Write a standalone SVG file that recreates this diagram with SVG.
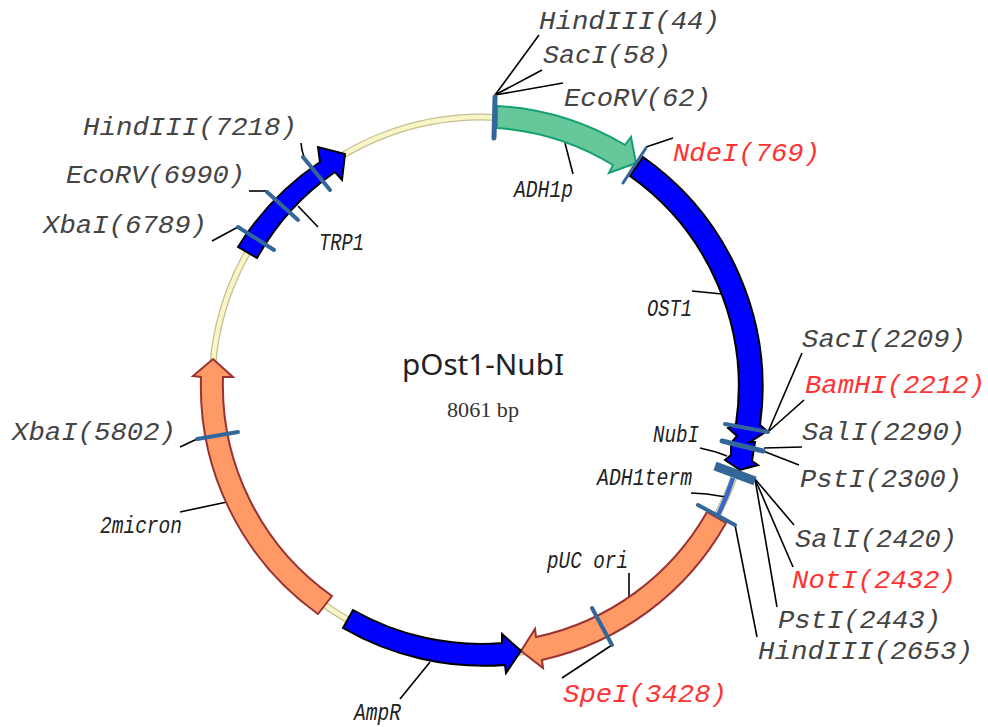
<svg xmlns="http://www.w3.org/2000/svg" width="988" height="727" viewBox="0 0 988 727">
<style>
.site{font:italic 25px "Liberation Mono",monospace;fill:#444;}
.red{fill:#ff3333;}
.feat{font:italic 24px "Liberation Mono",monospace;fill:#222;}
.mark{fill:none;stroke:#336699;stroke-width:4;stroke-linecap:round;}
.blue{fill:#0000ff;stroke:#000;stroke-width:2;}
.orange{fill:#ff9966;stroke:#993333;stroke-width:2;}
.green{fill:#66c89a;stroke:#14a070;stroke-width:2;}
#connectors line,#connectors polyline{fill:none;stroke:#000;stroke-width:1.6;}
</style>
<rect width="988" height="727" fill="#fff"/>
<g id="backbone">
<circle cx="481" cy="386" r="269" fill="none" stroke="#c4bf90" stroke-width="7"/>
<circle cx="481" cy="386" r="269" fill="none" stroke="#f8f5c6" stroke-width="4.5"/>
</g>
<g id="connectors">
<line x1="495" y1="95" x2="539" y2="35"/>
<line x1="495" y1="95" x2="542" y2="70"/>
<line x1="495" y1="95" x2="563" y2="83"/>
<line x1="646" y1="147" x2="673" y2="138"/>
<line x1="565" y1="143" x2="573" y2="174"/>
<line x1="692" y1="291" x2="722" y2="294"/>
<line x1="768" y1="432" x2="802" y2="353"/>
<line x1="768" y1="432" x2="804" y2="400"/>
<line x1="764" y1="448" x2="802" y2="447"/>
<line x1="763" y1="451" x2="799" y2="465"/>
<line x1="755" y1="479" x2="794" y2="525"/>
<line x1="755" y1="479" x2="793" y2="567"/>
<line x1="755" y1="479" x2="777" y2="607"/>
<line x1="735" y1="525" x2="757" y2="637"/>
<polyline points="700,448 716,452 727,456"/>
<polyline points="691,493 707,494 726,497"/>
<line x1="629" y1="573" x2="629" y2="598"/>
<line x1="612" y1="645" x2="562" y2="678"/>
<line x1="430" y1="662" x2="400" y2="699"/>
<line x1="298" y1="206" x2="318" y2="227"/>
<line x1="249" y1="191" x2="267" y2="191"/>
<line x1="212" y1="241" x2="238" y2="227"/>
<polyline points="301,143 302,150 304,157"/>
<line x1="180" y1="447" x2="197" y2="439"/>
<line x1="180" y1="512" x2="227" y2="502"/>
</g>
<g id="ADH1p">
<path class="green" d="M497,106 A280 280 0 0 1 625,145 L631,137 L636,163 L609,173 L613,165 A258 258 0 0 0 497,128 Z"/>
<text class="feat" x="514" y="197" textLength="59" lengthAdjust="spacingAndGlyphs">ADH1p</text>
</g>
<g id="OST1">
<path class="blue" d="M643,157 A281 281 0 0 1 760,425 L767,431 L750,442 L755,442 L752,461 L758,465 L740,470 L725,460 L731,455 L731,443 L737,436 L728,428 L736,424 A258 258 0 0 0 630,176 Z"/>
<text class="feat" x="647" y="316" textLength="45" lengthAdjust="spacingAndGlyphs">OST1</text>
</g>
<g id="NubI">
<text class="feat" x="653" y="442" textLength="46" lengthAdjust="spacingAndGlyphs">NubI</text>
</g>
<g id="ADH1term">
<path d="M733,478 A267 267 0 0 1 718,515" fill="none" stroke="#3a66cc" stroke-width="4.5"/>
<text class="feat" x="597" y="485" textLength="95" lengthAdjust="spacingAndGlyphs">ADH1term</text>
</g>
<g id="pUC-ori">
<path class="orange" d="M707,512 A258 258 0 0 1 536,637 L535,629 L521,651 L543,668 L542,660 A281 281 0 0 0 726,523 Z"/>
<text class="feat" x="547" y="568" textLength="81" lengthAdjust="spacingAndGlyphs">pUC ori</text>
</g>
<g id="AmpR">
<path class="blue" d="M353,610 A258 258 0 0 0 502,643 L502,634 L521,651 L506,673 L505,665 A280 280 0 0 1 343,628 Z"/>
<text class="feat" x="354" y="720" textLength="47" lengthAdjust="spacingAndGlyphs">AmpR</text>
</g>
<g id="two-micron">
<path class="orange" d="M332,596 A258 258 0 0 1 223,377 L233,377 L213,359 L193,376 L201,377 A280 280 0 0 0 318,614 Z"/>
<text class="feat" x="100" y="533" textLength="82" lengthAdjust="spacingAndGlyphs">2micron</text>
</g>
<g id="TRP1">
<path class="blue" d="M238,247 A280 280 0 0 1 320,162 L318,147 L345,154 L342,180 L335,172 A258 258 0 0 0 257,258 Z"/>
<text class="feat" x="319" y="250" textLength="45" lengthAdjust="spacingAndGlyphs">TRP1</text>
</g>
<g id="title">
<text x="402" y="375" textLength="162" lengthAdjust="spacingAndGlyphs" style="font:29px 'Noto Sans',sans-serif;fill:#222">pOst1-NubI</text>
<text x="447" y="417" textLength="72" lengthAdjust="spacingAndGlyphs" style="font:20px 'Liberation Serif',serif;fill:#333">8061 bp</text>
</g>
<g id="site-HindIII-44"><line class="mark" x1="495" y1="97" x2="494" y2="138" style="stroke-width:5"/><text class="site" x="539" y="29" textLength="181" lengthAdjust="spacingAndGlyphs">HindIII(44)</text></g>
<g id="site-SacI-58"><text class="site" x="543" y="63" textLength="128" lengthAdjust="spacingAndGlyphs">SacI(58)</text></g>
<g id="site-EcoRV-62"><text class="site" x="564" y="106" textLength="147" lengthAdjust="spacingAndGlyphs">EcoRV(62)</text></g>
<g id="site-NdeI-769"><line class="mark" x1="646" y1="148" x2="623" y2="183" style="stroke-width:3"/><text class="site red" x="673" y="161" textLength="147" lengthAdjust="spacingAndGlyphs">NdeI(769)</text></g>
<g id="site-SacI-2209"><line class="mark" x1="725" y1="424" x2="768" y2="432"/><text class="site" x="802" y="347" textLength="164" lengthAdjust="spacingAndGlyphs">SacI(2209)</text></g>
<g id="site-BamHI-2212"><text class="site red" x="805" y="393" textLength="180" lengthAdjust="spacingAndGlyphs">BamHI(2212)</text></g>
<g id="site-SalI-2290"><line class="mark" x1="722" y1="441" x2="763" y2="451" style="stroke-width:5"/><text class="site" x="802" y="440" textLength="163" lengthAdjust="spacingAndGlyphs">SalI(2290)</text></g>
<g id="site-PstI-2300"><text class="site" x="800" y="487" textLength="162" lengthAdjust="spacingAndGlyphs">PstI(2300)</text></g>
<g id="site-SalI-2420"><line class="mark" x1="715" y1="466" x2="755" y2="481" style="stroke-width:9;stroke-linecap:butt"/><text class="site" x="795" y="547" textLength="162" lengthAdjust="spacingAndGlyphs">SalI(2420)</text></g>
<g id="site-NotI-2432"><text class="site red" x="792" y="588" textLength="164" lengthAdjust="spacingAndGlyphs">NotI(2432)</text></g>
<g id="site-PstI-2443"><text class="site" x="778" y="628" textLength="163" lengthAdjust="spacingAndGlyphs">PstI(2443)</text></g>
<g id="site-HindIII-2653"><line class="mark" x1="698" y1="505" x2="735" y2="525"/><text class="site" x="758" y="659" textLength="215" lengthAdjust="spacingAndGlyphs">HindIII(2653)</text></g>
<g id="site-SpeI-3428"><line class="mark" x1="592" y1="608" x2="612" y2="645"/><text class="site red" x="563" y="702" textLength="164" lengthAdjust="spacingAndGlyphs">SpeI(3428)</text></g>
<g id="site-XbaI-5802"><line class="mark" x1="197" y1="439" x2="238" y2="432"/><text class="site" x="12" y="440" textLength="164" lengthAdjust="spacingAndGlyphs">XbaI(5802)</text></g>
<g id="site-XbaI-6789"><line class="mark" x1="238" y1="227" x2="274" y2="250"/><text class="site" x="43" y="233" textLength="164" lengthAdjust="spacingAndGlyphs">XbaI(6789)</text></g>
<g id="site-EcoRV-6990"><line class="mark" x1="267" y1="192" x2="298" y2="220"/><text class="site" x="66" y="183" textLength="179" lengthAdjust="spacingAndGlyphs">EcoRV(6990)</text></g>
<g id="site-HindIII-7218"><line class="mark" x1="303" y1="157" x2="330" y2="190"/><text class="site" x="83" y="135" textLength="214" lengthAdjust="spacingAndGlyphs">HindIII(7218)</text></g>
</svg>
